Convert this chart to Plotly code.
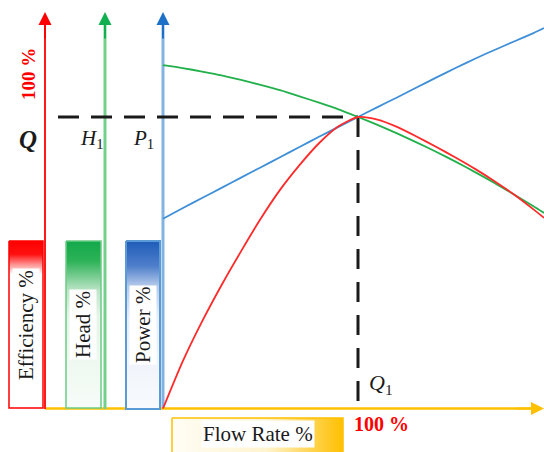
import plotly.graph_objects as go

# Pump characteristic curves, all in percent of the rated (best-efficiency) point Q1
flow_pct = [0, 10, 20, 30, 40, 50, 60, 70, 80, 90, 100,
            110, 120, 130, 140, 150, 160, 170, 180, 190, 195.4]
efficiency_pct = [0, 16.0, 29.8, 42.3, 53.9, 65.0, 75.0, 83.5, 91.0, 96.8, 100,
                  99.1, 96.6, 93.3, 89.8, 86.1, 82.2, 78.0, 73.4, 68.3, 65.4]
head_pct = [117.8, 116.8, 115.6, 114.3, 112.7, 111.0, 109.2, 107.1, 104.9, 102.6, 100,
            97.3, 94.4, 91.3, 88.1, 84.7, 81.1, 77.4, 73.4, 69.4, 67.1]
power_pct = [65.1, 68.7, 72.2, 75.7, 79.2, 82.7, 86.2, 89.7, 93.2, 96.6, 100,
             103.4, 106.7, 110.1, 113.5, 116.8, 120.0, 123.0, 125.9, 128.8, 130.5]

rated_flow = 100
rated_value = 100

W, H = 544, 452
SERIF = "Liberation Serif, Times New Roman, serif"

# Canvas layout (pixels): where the origin and the rated point sit
ORIGIN_X, ORIGIN_Y = 163, 408.5
RATED_X, RATED_Y = 358, 117
sx = (RATED_X - ORIGIN_X) / rated_flow      # px per % flow
sy = (ORIGIN_Y - RATED_Y) / rated_value     # px per % value

x_range = [-ORIGIN_X / sx, (W - ORIGIN_X) / sx]
y_range = [(ORIGIN_Y - H) / sy, ORIGIN_Y / sy]


def px_to_flow(px):
    return (px - ORIGIN_X) / sx


fig = go.Figure()


def label_box(x0, x1, y0, y1, border, width, scale, orient="vertical"):
    start, stop = (y0, y1) if orient == "vertical" else (x0, x1)
    fig.add_trace(go.Scatter(
        x=[x0, x1, x1, x0, x0], y=[y0, y0, y1, y1, y0],
        xaxis="x2", yaxis="y2", mode="lines", fill="toself",
        line=dict(color=border, width=width),
        fillgradient=dict(type=orient, start=start, stop=stop, colorscale=scale),
        hoverinfo="skip", showlegend=False))


# Legend-style label boxes
label_box(9, 43, 241, 408, "#FF0000", 1.5,
          [[0, "#FF0000"], [0.08, "#FF1010"], [0.14, "#FF9090"], [0.2, "#FFFFFF"], [1, "#FFFFFF"]])
label_box(66, 101, 241, 408, "#6CCB85", 1.5,
          [[0, "#12A94A"], [0.12, "#2DB257"], [0.3, "#BFE5C9"], [0.45, "#E6F4E9"], [1, "#F7FCF8"]])
label_box(126, 160, 241, 409, "#5B9BD5", 2,
          [[0, "#1E5CB8"], [0.15, "#4F7FCB"], [0.27, "#B7CCEB"], [0.45, "#E8EEF8"], [1, "#F8FAFD"]])
label_box(172, 343, 418, 470, "#FFC000", 1.5,
          [[0, "#FFFDF5"], [0.55, "#FFF4D0"], [0.8, "#FFD659"], [1, "#FFC000"]], orient="horizontal")

# Performance curves
curve_style = dict(mode="lines", line_shape="spline", hoverinfo="skip", showlegend=False)
fig.add_trace(go.Scatter(x=flow_pct, y=head_pct,
                         line=dict(color="#22B04B", width=1.8, smoothing=0.6), **curve_style))
fig.add_trace(go.Scatter(x=flow_pct, y=power_pct,
                         line=dict(color="#3F8FD8", width=1.8, smoothing=0.6), **curve_style))
fig.add_trace(go.Scatter(x=flow_pct, y=efficiency_pct,
                         line=dict(color="#FF2A2A", width=1.8, smoothing=0.6), **curve_style))

shapes = [
    # vertical value axes
    dict(type="line", xref="x2", yref="y2", x0=45, x1=45, y0=409, y1=20,
         line=dict(color="#FF1A1A", width=2), layer="below"),
    dict(type="line", xref="x2", yref="y2", x0=105, x1=105, y0=409, y1=20,
         line=dict(color="#72CF8C", width=3), layer="below"),
    dict(type="line", xref="x", yref="y2", x0=0, x1=0, y0=409, y1=20,
         line=dict(color="#82B3E2", width=3), layer="below"),
    # flow axis
    dict(type="line", xref="x2", yref="y", x0=45, x1=535, y0=0, y1=0,
         line=dict(color="#FFC000", width=2.5), layer="below"),
    # rated point guides
    dict(type="line", xref="x", yref="y", x0=px_to_flow(58), x1=rated_flow,
         y0=rated_value, y1=rated_value,
         line=dict(color="#1A1A1A", width=3, dash="21px,12px"), layer="below"),
    dict(type="line", xref="x", yref="y", x0=rated_flow, x1=rated_flow,
         y0=rated_value, y1=0,
         line=dict(color="#1A1A1A", width=3, dash="20px,13px"), layer="below"),
]

annotations = []


def arrow(x, y, ax, ay, color, width, size, xref="x2", yref="y2"):
    annotations.append(dict(
        x=x, y=y, ax=ax, ay=ay, xref=xref, yref=yref, axref=xref, ayref=yref,
        text="", showarrow=True, arrowhead=2, arrowsize=size, arrowwidth=width,
        arrowcolor=color, standoff=0))


arrow(45, 12, 45, 40, "#FF0000", 2, 1.3)
arrow(105, 12, 105, 40, "#10B050", 2, 1.3)
arrow(0, 12, 0, 40, "#1C70C8", 2, 1.3, xref="x")
arrow(544, 0, 515, 0, "#FFC000", 2, 1.3, xref="x2", yref="y")


def text(x, y, s, size, color="#1A1A1A", angle=0, bg=None, xref="x2", yref="y2"):
    annotations.append(dict(
        x=x, y=y, xref=xref, yref=yref, text=s, showarrow=False, textangle=angle,
        font=dict(family=SERIF, size=size, color=color),
        bgcolor=bg, borderpad=1))


text(28, 74, "<b>100 %</b>", 19, color="#FF0000", angle=-90)
text(28, 139, "<b><i>Q</i></b>", 25)
text(92, 139, "<i>H</i><sub>1</sub>", 21)
text(143, 139, "<i>P</i><sub>1</sub>", 21)
text(381, 384, "<i>Q</i><sub>1</sub>", 22)
text(381, 424, "<b>100 %</b>", 20, color="#FF0000")
text(258, 434, "Flow Rate %", 21, bg="#FFFFFF")
text(26, 325, "Efficiency %", 21, angle=-90, bg="#FFFFFF")
text(83, 325, "Head %", 21, angle=-90, bg="#FFFFFF")
text(143, 325, "Power %", 21, angle=-90, bg="#FFFFFF")

fig.update_layout(
    width=W, height=H, autosize=False,
    margin=dict(l=0, r=0, t=0, b=0, pad=0),
    paper_bgcolor="white", plot_bgcolor="white",
    showlegend=False, hovermode=False,
    xaxis=dict(range=x_range, visible=False, fixedrange=True),
    yaxis=dict(range=y_range, visible=False, fixedrange=True),
    xaxis2=dict(range=[0, W], visible=False, overlaying="x", anchor="y2", fixedrange=True),
    yaxis2=dict(range=[H, 0], visible=False, overlaying="y", anchor="x2", fixedrange=True),
    shapes=shapes, annotations=annotations,
)

fig.write_html("out.html", config={"displayModeBar": False})
